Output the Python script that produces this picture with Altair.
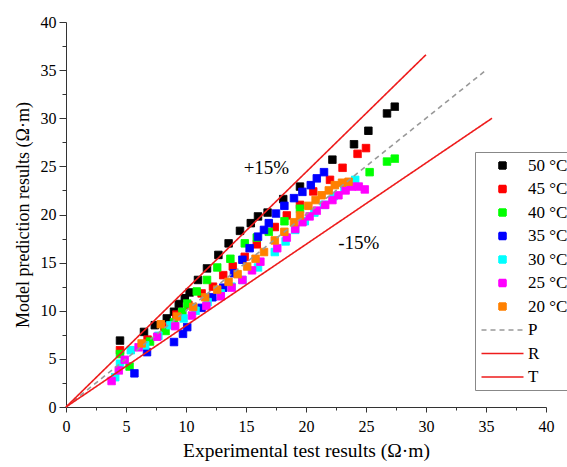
import altair as alt
import pandas as pd

series_names = ["50 °C", "45 °C", "40 °C", "35 °C", "30 °C", "25 °C", "20 °C"]
line_names = ["P", "R", "T"]
all_names = series_names + line_names
colors = ["#000000", "#ff0000", "#00ff00", "#0000ff", "#00ffff", "#ff00ff", "#ff8000",
          "#999999", "#ee1c1c", "#ee1c1c"]

x50 = [4.5, 6.5, 7.4, 8.4, 9.0, 9.4, 9.9, 10.3, 11.0, 11.75, 12.7, 13.55, 14.5, 15.4, 16.0, 16.8, 18.1, 19.5, 22.2, 24.0, 25.2, 26.75, 27.4]
y50 = [6.9, 7.8, 8.5, 9.2, 9.9, 10.7, 11.3, 11.9, 13.2, 14.4, 15.8, 17.0, 18.3, 19.1, 19.8, 20.2, 21.6, 22.9, 25.7, 27.3, 28.7, 30.5, 31.2]
x45 = [4.5, 6.8, 8.2, 9.2, 10.2, 11.3, 12.25, 13.1, 13.9, 14.9, 15.9, 17.4, 18.4, 19.5, 20.6, 22.0, 23.05, 24.3, 25.0]
y45 = [5.9, 7.0, 8.3, 9.6, 10.6, 11.8, 12.5, 13.7, 14.6, 15.6, 16.9, 18.7, 19.9, 21.0, 22.4, 23.6, 24.85, 26.3, 26.9]
x40 = [4.5, 5.3, 7.0, 8.3, 9.0, 9.7, 10.1, 10.9, 11.75, 12.6, 13.7, 14.9, 15.9, 16.9, 18.2, 19.5, 25.3, 26.75, 27.4]
y40 = [5.5, 4.2, 6.8, 7.9, 8.8, 9.9, 10.75, 12.0, 13.2, 14.5, 15.4, 17.0, 17.6, 18.2, 19.3, 20.6, 24.4, 25.5, 25.8]
x35 = [5.7, 6.75, 9.0, 9.75, 10.1, 11.3, 12.2, 13.1, 14.0, 14.7, 15.3, 16.0, 16.5, 16.9, 17.5, 18.2, 19.0, 19.7, 20.4, 20.9, 21.5]
y35 = [3.5, 5.7, 6.75, 7.6, 8.3, 10.3, 11.4, 12.4, 13.9, 15.3, 16.5, 17.7, 18.4, 19.1, 20.1, 20.9, 21.7, 22.35, 23.05, 23.75, 24.4]
x30 = [4.1, 4.5, 5.4, 6.6, 7.7, 8.7, 9.8, 10.8, 11.8, 12.9, 13.8, 14.7, 16.0, 17.4, 18.3, 19.1, 19.9, 20.7, 21.5, 22.3, 23.2, 24.1]
y30 = [3.1, 4.5, 5.9, 6.4, 7.4, 8.5, 9.2, 10.0, 10.9, 11.8, 12.5, 13.2, 14.5, 16.1, 17.2, 18.4, 19.3, 20.2, 21.0, 21.9, 22.8, 23.6]
x25 = [3.8, 4.4, 4.9, 6.05, 7.6, 9.1, 10.5, 11.7, 12.9, 13.8, 14.7, 15.5, 16.2, 17.6, 18.4, 19.1, 19.7, 20.3, 20.9, 21.6, 22.2, 22.7, 23.3, 23.8, 24.4, 24.9]
y25 = [2.7, 3.8, 4.9, 6.2, 7.3, 8.4, 9.5, 10.5, 11.5, 12.4, 13.2, 14.2, 15.1, 16.5, 17.6, 18.5, 19.2, 19.8, 20.4, 21.0, 21.5, 22.0, 22.5, 22.9, 22.9, 22.6]
x20 = [6.3, 7.9, 9.25, 10.6, 11.6, 12.6, 13.55, 14.3, 15.1, 15.8, 16.5, 17.4, 18.2, 19.0, 19.5, 20.2, 20.8, 21.3, 21.9, 22.4, 23.0, 23.55]
y20 = [6.6, 8.6, 9.4, 10.4, 11.4, 12.2, 13.0, 13.8, 14.6, 15.4, 16.1, 17.3, 18.2, 19.2, 19.9, 20.9, 21.5, 22.0, 22.5, 23.05, 23.3, 23.4]

xP = [0, 35.0]
yP = [0, 35.0]
xR = [0, 30.0]
yR = [0, 36.6]
xT = [0, 35.5]
yT = [0, 30.0]

note_text = ["+15%", "-15%"]
note_x = [16.7, 24.4]
note_y = [24.8, 17.0]

major_ticks = [0, 5, 10, 15, 20, 25, 30, 35, 40]
minor_ticks = [2.5, 7.5, 12.5, 17.5, 22.5, 27.5, 32.5, 37.5]

xs = [x50, x45, x40, x35, x30, x25, x20]
ys = [y50, y45, y40, y35, y30, y25, y20]
rows = []
for name, xv, yv in zip(series_names, xs, ys):
    for a, b in zip(xv, yv):
        rows.append({"series": name, "x": a, "y": b})
pts = pd.DataFrame(rows)

lrows = []
for name, xv, yv in zip(line_names, [xP, xR, xT], [yP, yR, yT]):
    for i, (a, b) in enumerate(zip(xv, yv)):
        lrows.append({"series": name, "x": a, "y": b, "o": i})
lines_df = pd.DataFrame(lrows)

notes = pd.DataFrame({"t": note_text, "x": note_x, "y": note_y})

FONT = "Liberation Serif"
W, H = 480, 385
line_path = "M-6,0H6"
shapes = ["square"] * 7 + [line_path] * 3
dashes = [[1, 0]] * 7 + [[5, 4], [1, 0], [1, 0]]

legend = alt.Legend(
    title=None, orient="none", legendX=409, legendY=130,
    labelFont=FONT, labelFontSize=17, labelColor="black",
    symbolSize=49, symbolOffset=14, labelOffset=17, rowPadding=5.5,
    symbolStrokeWidth=1.6, symbolOpacity=1,
    padding=5, strokeColor="#888888", fillColor="white",
)

xs_scale = alt.Scale(domain=[0, 40], nice=False)
ys_scale = alt.Scale(domain=[0, 40], nice=False)
fill = alt.Fill("series:N", scale=alt.Scale(domain=all_names, range=colors), legend=legend)
stroke = alt.Stroke("series:N", scale=alt.Scale(domain=all_names, range=colors), legend=legend)
shape = alt.Shape("series:N", scale=alt.Scale(domain=all_names, range=shapes), legend=legend)
dash = alt.StrokeDash("series:N", scale=alt.Scale(domain=all_names, range=dashes), legend=legend)

points = alt.Chart(pts).mark_point(filled=True, size=56, opacity=1, strokeWidth=1).encode(
    x=alt.X("x:Q", scale=xs_scale, axis=alt.Axis(
        orient="bottom", values=major_ticks, tickSize=5, tickColor="#333333", grid=False,
        labelFont=FONT, labelFontSize=16, labelColor="black", labelPadding=6,
        labelFlush=False,
        domainColor="#333333", title="Experimental test results (Ω·m)",
        titleFont=FONT, titleFontSize=19.5, titleFontWeight="normal", titleColor="black",
        titlePadding=7)),
    y=alt.Y("y:Q", scale=ys_scale, axis=alt.Axis(
        orient="left", values=major_ticks, tickSize=7, tickColor="#333333", grid=False,
        labelFont=FONT, labelFontSize=16, labelColor="black", labelPadding=3,
        labelFlush=False,
        domainColor="#333333", title="Model prediction results (Ω·m)",
        titleFont=FONT, titleFontSize=18, titleFontWeight="normal", titleColor="black",
        titlePadding=8)),
    fill=fill, stroke=stroke, shape=shape, strokeDash=dash,
)

lines = alt.Chart(lines_df).mark_line(strokeWidth=1.6).encode(
    x=alt.X("x:Q", scale=xs_scale, axis=alt.Axis(
        orient="bottom", values=minor_ticks, tickSize=3, tickColor="#333333",
        labels=False, domain=False, grid=False, title=None)),
    y=alt.Y("y:Q", scale=ys_scale, axis=alt.Axis(
        orient="left", values=minor_ticks, tickSize=4, tickColor="#333333",
        labels=False, domain=False, grid=False, title=None)),
    stroke=stroke, strokeDash=dash, order="o:Q",
)

texts = alt.Chart(notes).mark_text(font=FONT, fontSize=19, color="black").encode(
    x=alt.X("x:Q", scale=xs_scale, axis=None),
    y=alt.Y("y:Q", scale=ys_scale, axis=None),
    text="t:N",
)

chart = alt.layer(points, lines, texts).resolve_axis(
    x="independent", y="independent"
).properties(
    width=W, height=H,
    autosize=alt.AutoSizeParams(type="none"),
    padding={"left": 66, "top": 22, "right": 21, "bottom": 60},
    background="white",
).configure_view(strokeWidth=0)

chart.save("out.html", embed_options={"renderer": "svg", "actions": False})
